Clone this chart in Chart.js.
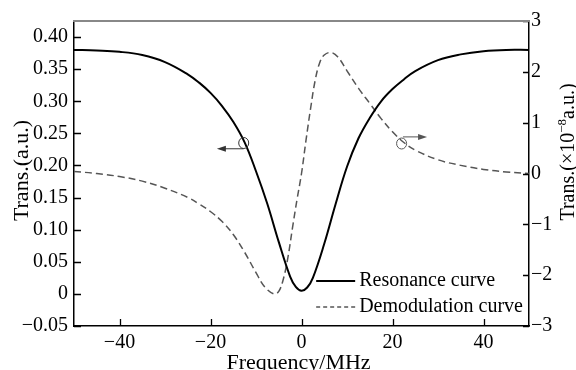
<!DOCTYPE html>
<html>
<head>
<meta charset="utf-8">
<script src="https://cdn.jsdelivr.net/npm/chart.js@4"></script>
<style>
  html, body { margin: 0; padding: 0; background: #fff; }
  #c { display: block; }
</style>
</head>
<body>
<canvas id="c" width="576" height="370"></canvas>
<script>
// ---- data ----
const resFreq = [-50, -45, -40, -35, -30, -25, -22.5, -20, -17.5, -15, -12.5, -10, -7.5, -5, -2.5, -1.25, 0, 1.25, 2.5, 5, 7.5, 10, 12.5, 15, 17.5, 20, 22.5, 25, 30, 35, 40, 45, 50];
const resValues = [0.380, 0.379, 0.377, 0.372, 0.361, 0.342, 0.329, 0.313, 0.293, 0.268, 0.236, 0.191, 0.140, 0.081, 0.027, 0.011, 0.005, 0.010, 0.025, 0.078, 0.140, 0.198, 0.242, 0.274, 0.300, 0.319, 0.334, 0.347, 0.364, 0.373, 0.378, 0.380, 0.380];

const demodFreq = [-50, -45, -40, -35, -30, -25, -22.5, -20, -17.5, -15, -12.5, -10, -8, -6, -5, -4, -3, -2, -1, 0, 1, 2, 3, 4, 5, 6.5, 8, 10, 12.5, 15, 17.5, 20, 22.5, 25, 30, 35, 40, 45, 50];
const demodValues = [0.04, 0.0, -0.06, -0.15, -0.29, -0.47, -0.60, -0.75, -0.94, -1.20, -1.55, -1.95, -2.24, -2.37, -2.32, -2.08, -1.66, -1.08, -0.52, 0.0, 0.66, 1.28, 1.83, 2.18, 2.33, 2.38, 2.29, 2.02, 1.68, 1.38, 1.08, 0.82, 0.61, 0.46, 0.27, 0.16, 0.08, 0.03, 0.0];

const seriesNames = ['Resonance curve', 'Demodulation curve'];

const xTicks = [-40, -20, 0, 20, 40];
const xTickLabels = ['\u221240', '\u221220', '0', '20', '40'];
const yLeftTicks = [-0.05, 0, 0.05, 0.10, 0.15, 0.20, 0.25, 0.30, 0.35, 0.40];
const yLeftTickLabels = ['\u22120.05', '0', '0.05', '0.10', '0.15', '0.20', '0.25', '0.30', '0.35', '0.40'];
const yRightTicks = [-3, -2, -1, 0, 1, 2, 3];
const yRightTickLabels = ['\u22123', '\u22122', '\u22121', '0', '1', '2', '3'];

const xTitle = 'Frequency/MHz';
const yLeftTitle = 'Trans.(a.u.)';
const yRightTitleParts = ['Trans.(\u00d710', '\u22128', 'a.u.)'];

// annotation markers (data coordinates): circle on curve + arrow pointing to its axis
const leftMarker = { x: -12.7, y: 0.235, arrowY: 0.226, arrowFrom: -12.7, arrowTo: -18.6 };
const rightMarker = { x: 22.0, y: 0.59, arrowY: 0.72, arrowFrom: 22.3, arrowTo: 27.6 };

// ---- chart ----
const SERIF = "'Liberation Serif', 'Times New Roman', Times, serif";

function toPoints(xs, ys) { return xs.map((x, i) => ({ x: x, y: ys[i] })); }

const innerTicks = {
  id: 'innerTicks',
  afterDatasetsDraw(chart) {
    const ctx = chart.ctx;
    const a = chart.chartArea;
    const sx = chart.scales.x, yl = chart.scales.yL, yr = chart.scales.yR;
    ctx.save();
    ctx.strokeStyle = '#000';
    ctx.lineWidth = 1.3;
    ctx.beginPath();
    sx.ticks.forEach(t => {
      const p = Math.round(sx.getPixelForValue(t.value)) + 0.5;
      ctx.moveTo(p, a.bottom); ctx.lineTo(p, a.bottom - 7);
    });
    yl.ticks.forEach(t => {
      const p = Math.round(yl.getPixelForValue(t.value)) + 0.5;
      ctx.moveTo(a.left, p); ctx.lineTo(a.left + 7, p);
    });
    yr.ticks.forEach(t => {
      const p = Math.round(yr.getPixelForValue(t.value)) + 0.5;
      ctx.moveTo(a.right, p); ctx.lineTo(a.right - 6, p);
    });
    ctx.stroke();
    // top frame line
    ctx.strokeStyle = '#888';
    ctx.lineWidth = 2;
    ctx.beginPath();
    ctx.moveTo(a.left - 1, a.top); ctx.lineTo(a.right + 1, a.top);
    ctx.stroke();
    ctx.restore();
  }
};

function drawArrow(ctx, x1, y, x2) {
  const dir = x2 > x1 ? 1 : -1;
  ctx.beginPath();
  ctx.moveTo(x1, y); ctx.lineTo(x2 - dir * 6, y);
  ctx.stroke();
  ctx.beginPath();
  ctx.moveTo(x2, y);
  ctx.lineTo(x2 - dir * 9, y - 3);
  ctx.lineTo(x2 - dir * 9, y + 3);
  ctx.closePath();
  ctx.fill();
}

const markers = {
  id: 'markers',
  afterDatasetsDraw(chart) {
    const ctx = chart.ctx;
    const sx = chart.scales.x, yl = chart.scales.yL, yr = chart.scales.yR;
    ctx.save();
    ctx.strokeStyle = '#333';
    ctx.fillStyle = '#333';
    ctx.lineWidth = 1;
    let cx = sx.getPixelForValue(leftMarker.x), cy = yl.getPixelForValue(leftMarker.y);
    ctx.beginPath(); ctx.ellipse(cx, cy, 5, 5.5, 0, 0, Math.PI * 2); ctx.stroke();
    drawArrow(ctx, sx.getPixelForValue(leftMarker.arrowFrom), yl.getPixelForValue(leftMarker.arrowY), sx.getPixelForValue(leftMarker.arrowTo));
    cx = sx.getPixelForValue(rightMarker.x); cy = yr.getPixelForValue(rightMarker.y);
    ctx.strokeStyle = '#555'; ctx.fillStyle = '#555';
    ctx.beginPath(); ctx.ellipse(cx, cy, 5, 5.5, 0, 0, Math.PI * 2); ctx.stroke();
    drawArrow(ctx, sx.getPixelForValue(rightMarker.arrowFrom), yr.getPixelForValue(rightMarker.arrowY), sx.getPixelForValue(rightMarker.arrowTo));
    ctx.restore();
  }
};

const innerLegend = {
  id: 'innerLegend',
  afterDraw(chart) {
    const ctx = chart.ctx;
    const a = chart.chartArea;
    ctx.save();
    ctx.font = '20px ' + SERIF;
    ctx.textBaseline = 'middle';
    ctx.textAlign = 'left';
    const widths = chart.data.datasets.map(d => ctx.measureText(d.label).width);
    const textX = a.right - 6 - Math.max.apply(null, widths);
    const rowsY = [a.bottom - 45, a.bottom - 19];
    chart.data.datasets.forEach((d, i) => {
      const y = rowsY[i];
      ctx.strokeStyle = d.borderColor;
      ctx.lineWidth = d.borderWidth;
      ctx.setLineDash(i === 1 ? [4, 3] : []);
      ctx.beginPath();
      ctx.moveTo(textX - 43, y); ctx.lineTo(textX - 4, y);
      ctx.stroke();
      ctx.setLineDash([]);
      ctx.fillStyle = '#000';
      ctx.fillText(d.label, textX, y);
    });
    ctx.restore();
  }
};

const axisTitles = {
  id: 'axisTitles',
  afterDraw(chart) {
    const ctx = chart.ctx;
    const a = chart.chartArea;
    ctx.save();
    ctx.fillStyle = '#000';
    ctx.textBaseline = 'alphabetic';
    ctx.font = '22px ' + SERIF;
    ctx.textAlign = 'center';
    ctx.fillText(xTitle, (a.left + a.right) / 2 - 3, 369);
    ctx.save();
    ctx.translate(28, (a.top + a.bottom) / 2 - 3);
    ctx.rotate(-Math.PI / 2);
    ctx.fillText(yLeftTitle, 0, 0);
    ctx.restore();
    ctx.save();
    const big = '20px ' + SERIF, small = '13px ' + SERIF;
    ctx.font = big;
    const w0 = ctx.measureText(yRightTitleParts[0]).width;
    const w2 = ctx.measureText(yRightTitleParts[2]).width;
    ctx.font = small;
    const w1 = ctx.measureText(yRightTitleParts[1]).width;
    const total = w0 + w1 + w2;
    ctx.translate(574, 152);
    ctx.rotate(-Math.PI / 2);
    ctx.textAlign = 'left';
    let x = -total / 2;
    ctx.font = big; ctx.fillText(yRightTitleParts[0], x, 0); x += w0;
    ctx.font = small; ctx.fillText(yRightTitleParts[1], x, -8); x += w1;
    ctx.font = big; ctx.fillText(yRightTitleParts[2], x, 0);
    ctx.restore();
    ctx.restore();
  }
};

new Chart(document.getElementById('c'), {
  type: 'line',
  data: {
    datasets: [
      {
        label: seriesNames[0],
        data: toPoints(resFreq, resValues),
        yAxisID: 'yL',
        borderColor: '#000',
        borderWidth: 2,
        pointRadius: 0,
        fill: false,
        tension: 0.4
      },
      {
        label: seriesNames[1],
        data: toPoints(demodFreq, demodValues),
        yAxisID: 'yR',
        borderColor: '#555',
        borderWidth: 1.5,
        borderDash: [7, 4],
        pointRadius: 0,
        fill: false,
        tension: 0.4
      }
    ]
  },
  options: {
    responsive: false,
    animation: false,
    devicePixelRatio: 1,
    layout: { padding: { top: 21, left: 0, right: 0, bottom: 0 } },
    plugins: { legend: { display: false }, tooltip: { enabled: false } },
    scales: {
      x: {
        type: 'linear',
        min: -50, max: 50,
        afterBuildTicks: s => { s.ticks = xTicks.map(v => ({ value: v })); },
        afterFit: s => { s.height = 44; },
        grid: { display: false, drawTicks: false },
        border: { display: true, color: '#000', width: 1.5 },
        ticks: {
          color: '#000', padding: 5, maxRotation: 0,
          font: { family: SERIF, size: 20 },
          callback: (v, i) => xTickLabels[i]
        }
      },
      yL: {
        type: 'linear', position: 'left',
        min: -0.05, max: 0.425,
        afterBuildTicks: s => { s.ticks = yLeftTicks.map(v => ({ value: v })); },
        afterFit: s => { s.width = 74; },
        grid: { display: false, drawTicks: false },
        border: { display: true, color: '#000', width: 1.5 },
        ticks: {
          color: '#000', padding: 6,
          font: { family: SERIF, size: 20 },
          callback: (v, i) => yLeftTickLabels[i]
        }
      },
      yR: {
        type: 'linear', position: 'right',
        min: -3, max: 3,
        afterBuildTicks: s => { s.ticks = yRightTicks.map(v => ({ value: v })); },
        afterFit: s => { s.width = 47; },
        grid: { display: false, drawTicks: false },
        border: { display: true, color: '#000', width: 1.5 },
        ticks: {
          color: '#000', padding: 2,
          font: { family: SERIF, size: 20 },
          callback: (v, i) => yRightTickLabels[i]
        }
      }
    }
  },
  plugins: [innerTicks, markers, innerLegend, axisTitles]
});
</script>
</body>
</html>
